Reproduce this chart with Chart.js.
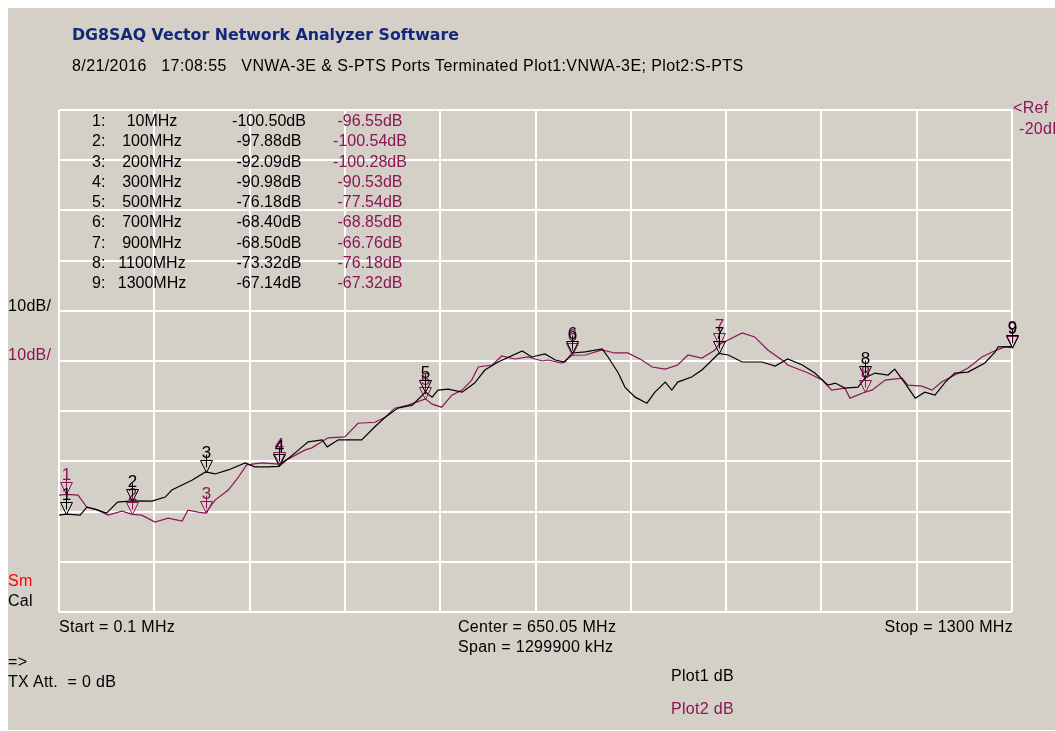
<!DOCTYPE html>
<html>
<head>
<meta charset="utf-8">
<script src="https://cdn.jsdelivr.net/npm/chart.js@4.4.0/dist/chart.umd.min.js"></script>
<style>
  html, body { margin: 0; padding: 0; background: #fff; }
  #frame { position: absolute; left: 8px; top: 8px; width: 1047px; height: 722px; background: #d4d0c8; }
  #chart { position: absolute; left: 0; top: 0; }
  .t { position: absolute; font-family: "Liberation Sans", Arial, sans-serif; font-size: 16px; line-height: 20px; white-space: pre; color: #000; letter-spacing: 0.3px; }
  .tbl { letter-spacing: 0; }
  .p2 { color: #8b1654; }
  .title { font-family: "DejaVu Sans", Verdana, sans-serif; font-weight: bold; font-size: 15.8px; color: #14287a; letter-spacing: 0; }
  .sub { letter-spacing: 0.4px; }
</style>
</head>
<body>
<div id="frame"></div>
<canvas id="chart" width="1055" height="731"></canvas>
<div id="texts"></div>
<script>
// sweep settings
const startMHz = 0.1;
const stopMHz = 1300;
const refDb = -20;
const dbPerDiv = 10;

// Plot1: VNWA-3E (black) - frequency in MHz, level in dB
const freq1 = [0.1, 10, 29, 38, 49, 65, 80, 100, 127, 145, 154, 168, 182, 200, 213, 231, 254, 267, 285, 300,
  322, 340, 359, 366, 381, 413, 431, 445, 462, 482, 500, 509, 517, 531, 550, 567, 581, 599, 632, 645,
  663, 677, 690, 700, 718, 741, 749, 763, 772, 786, 802, 813, 827, 836, 844, 863, 877, 891, 900, 913,
  932, 959, 977, 994, 1014, 1031, 1049, 1059, 1072, 1090, 1100, 1113, 1131, 1140, 1154, 1168, 1181, 1195, 1209, 1222,
  1240, 1263, 1277, 1281, 1300];
const plot1 = [-100.7, -100.5, -100.7, -99.1, -99.5, -100.3, -98.1, -97.88, -97.9, -97.1, -95.7, -94.7, -93.7, -92.09, -92.5, -91.7, -90.3, -91.1, -91.1, -90.98,
  -88.3, -86.1, -85.7, -87.1, -85.7, -85.7, -83.1, -81.2, -79.4, -78.8, -76.18, -77.2, -75.8, -75.6, -76.2, -74.4, -71.8, -70.2, -68.0, -69.2,
  -68.6, -69.8, -70.2, -68.4, -68.2, -67.6, -69.2, -72.4, -75.2, -77.2, -78.4, -76.2, -74.2, -75.8, -74.2, -73.2, -71.8, -69.8, -68.5, -68.8,
  -70.2, -70.2, -71.0, -69.6, -70.8, -72.4, -74.8, -74.4, -75.4, -75.2, -73.32, -72.4, -72.8, -71.6, -74.4, -77.4, -76.2, -76.8, -74.2, -72.4,
  -72.2, -70.4, -68.2, -67.2, -67.14];

// Plot2: S-PTS (purple)
const freq2 = [0.1, 10, 26, 38, 53, 67, 86, 100, 113, 131, 149, 168, 176, 190, 200, 213, 231, 244, 256, 277, 300,
  318, 336, 345, 367, 390, 408, 431, 445, 458, 476, 500, 509, 522, 536, 550, 563, 572, 591, 604, 622,
  640, 659, 667, 686, 700, 718, 741, 758, 776, 795, 809, 827, 844, 858, 877, 895, 900, 932, 949,
  967, 990, 994, 1022, 1041, 1054, 1072, 1079, 1100, 1109, 1127, 1150, 1158, 1177, 1191, 1204, 1222, 1240, 1259, 1273,
  1290, 1300];
const plot2 = [-96.7, -96.55, -96.7, -99.1, -99.7, -100.7, -99.9, -100.54, -100.7, -102.1, -101.3, -101.9, -99.7, -100.1, -100.28, -97.7, -95.7, -93.3, -90.7, -90.3, -90.53,
  -89.1, -87.7, -87.3, -85.3, -85.1, -82.4, -82.2, -81.2, -79.4, -78.8, -77.54, -78.6, -79.2, -76.8, -75.8, -73.8, -71.2, -70.8, -69.0, -69.6,
  -69.2, -70.0, -69.8, -70.4, -68.85, -68.8, -67.8, -68.4, -68.4, -69.8, -71.2, -71.6, -70.8, -68.8, -69.4, -67.8, -66.76, -64.4, -65.2,
  -67.8, -70.2, -70.8, -72.4, -73.8, -75.8, -75.4, -77.4, -76.18, -75.8, -73.8, -73.4, -74.8, -75.0, -75.8, -74.2, -72.8, -71.4, -69.2, -68.2,
  -67.2, -67.32];

// markers
const markerFreqs = [10, 100, 200, 300, 500, 700, 900, 1100, 1300];
const plot1Marker = [-100.50, -97.88, -92.09, -90.98, -76.18, -68.40, -68.50, -73.32, -67.14];
const plot2Marker = [-96.55, -100.54, -100.28, -90.53, -77.54, -68.85, -66.76, -76.18, -67.32];

const BLACK = '#000000';
const PURPLE = '#8b1654';

// 10 divisions across the sweep
const xDivs = [];
for (let i = 0; i <= 10; i++) xDivs.push(startMHz + (stopMHz - startMHz) * i / 10);

function addText(txt, x, y, cls, align) {
    const d = document.createElement('div');
    d.className = 't' + (cls ? ' ' + cls : '');
    d.textContent = txt;
    d.style.top = (y - 10) + 'px';
    if (align === 'right') {
        d.style.right = (1055 - x) + 'px';
    } else if (align === 'center') {
        d.style.left = x + 'px';
        d.style.transform = 'translateX(-50%)';
    } else {
        d.style.left = x + 'px';
    }
    document.getElementById('texts').appendChild(d);
    return d;
}

addText('DG8SAQ Vector Network Analyzer Software', 72, 35, 'title');
addText('8/21/2016   17:08:55   VNWA-3E & S-PTS Ports Terminated Plot1:VNWA-3E; Plot2:S-PTS', 72, 66, 'sub');

// marker table
markerFreqs.forEach((f, i) => {
    const y = 121 + i * 20.25;
    addText((i + 1) + ':', 92, y, 'tbl');
    addText(f + 'MHz', 152, y, 'tbl', 'center');
    addText(plot1Marker[i].toFixed(2) + 'dB', 269, y, 'tbl', 'center');
    addText(plot2Marker[i].toFixed(2) + 'dB', 370, y, 'tbl p2', 'center');
});

addText('10dB/', 8, 306);
addText('10dB/', 8, 355, 'p2');
addText('<Ref', 1013, 108, 'p2');
addText(refDb + 'dB', 1019, 129, 'p2');
addText('Sm', 8, 581).style.color = '#ff0000';
addText('Cal', 8, 601);
addText('Start = ' + startMHz + ' MHz', 59, 627);
addText('Center = 650.05 MHz', 458, 627);
addText('Span = 1299900 kHz', 458, 647);
addText('Stop = ' + stopMHz + ' MHz', 1013, 627, '', 'right');
addText('=>', 8, 662);
addText('TX Att.  = 0 dB', 8, 682);
addText('Plot1 dB', 671, 676);
addText('Plot2 dB', 671, 709, 'p2');

// marker triangles with numbers
const markerPlugin = {
    id: 'markers',
    afterDatasetsDraw(chart) {
        const ctx = chart.ctx;
        const xs = chart.scales.x;
        const ys = chart.scales.y;
        ctx.save();
        ctx.lineWidth = 1;
        ctx.font = '17px "Liberation Sans", Arial, sans-serif';
        ctx.textAlign = 'center';
        ctx.textBaseline = 'alphabetic';
        [[plot2Marker, PURPLE], [plot1Marker, BLACK]].forEach(([vals, col]) => {
            markerFreqs.forEach((f, i) => {
                const px = Math.round(xs.getPixelForValue(f)) + 0.5;
                const py = Math.round(ys.getPixelForValue(vals[i])) + 0.5;
                ctx.strokeStyle = col;
                ctx.fillStyle = col;
                ctx.beginPath();
                ctx.moveTo(px - 6, py - 12);
                ctx.lineTo(px + 6, py - 12);
                ctx.lineTo(px, py);
                ctx.closePath();
                ctx.stroke();
                ctx.beginPath();
                ctx.moveTo(px, py - 18);
                ctx.lineTo(px, py - 5);
                ctx.stroke();
                ctx.fillText(String(i + 1), px, py - 15);
            });
        });
        ctx.restore();
    }
};

const gridOpts = { color: '#ffffff', lineWidth: 2, drawTicks: false };

const chart = new Chart(document.getElementById('chart').getContext('2d'), {
    type: 'line',
    data: {
        datasets: [
            {
                label: 'Plot1 dB',
                data: freq1.map((f, i) => ({ x: f, y: plot1[i] })),
                borderColor: BLACK,
                borderWidth: 1.2,
                pointRadius: 0,
                tension: 0
            },
            {
                label: 'Plot2 dB',
                data: freq2.map((f, i) => ({ x: f, y: plot2[i] })),
                borderColor: PURPLE,
                borderWidth: 1.2,
                pointRadius: 0,
                tension: 0
            }
        ]
    },
    options: {
        responsive: false,
        animation: false,
        layout: { padding: { left: 59, top: 110, right: 43, bottom: 119 } },
        plugins: { legend: { display: false }, tooltip: { enabled: false } },
        scales: {
            x: {
                type: 'linear',
                min: startMHz,
                max: stopMHz,
                afterBuildTicks: (s) => { s.ticks = xDivs.map(v => ({ value: v })); },
                ticks: { display: false },
                grid: gridOpts,
                border: { display: false }
            },
            y: {
                min: refDb - 10 * dbPerDiv,
                max: refDb,
                ticks: { display: false, stepSize: dbPerDiv },
                grid: gridOpts,
                border: { display: false }
            }
        }
    },
    plugins: [markerPlugin]
});
</script>
</body>
</html>
